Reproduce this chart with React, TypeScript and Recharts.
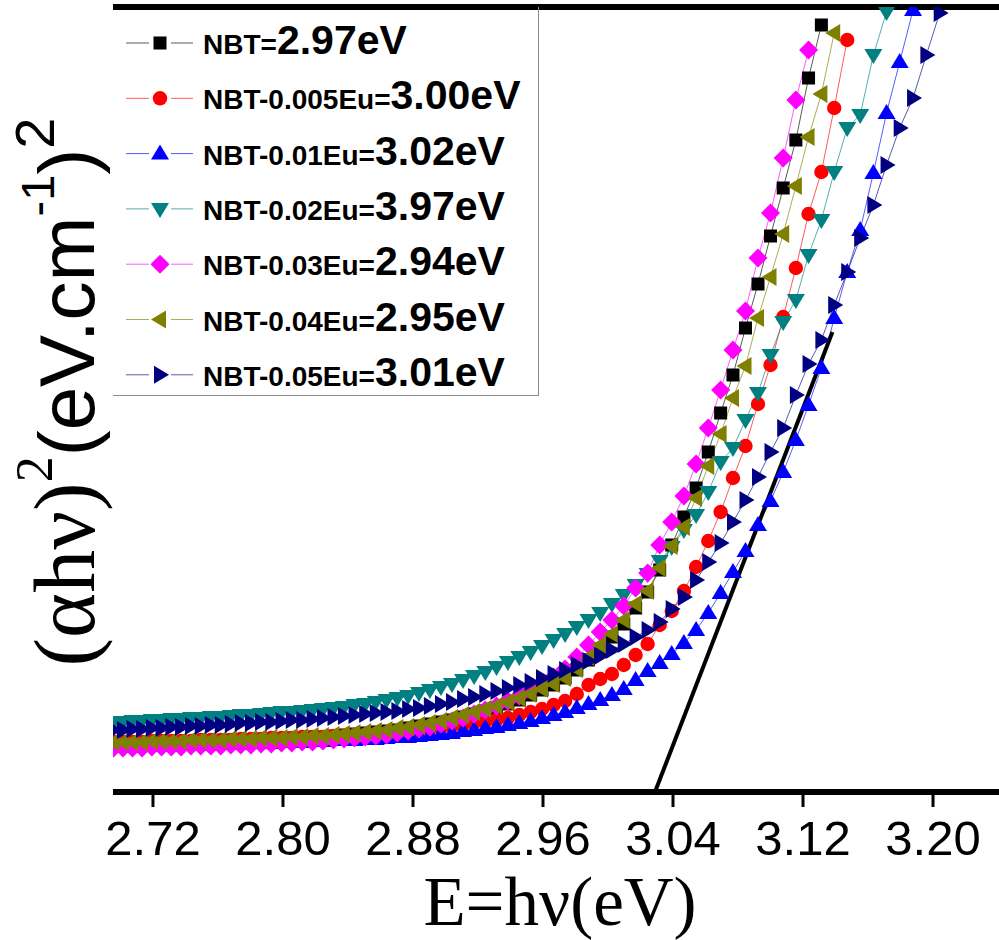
import React from 'react';
import { LineChart, Line, XAxis, YAxis, ReferenceLine, Legend } from 'recharts';

// Photon energy (eV) of each measured point
const energy = [
  2.6957, 2.7015, 2.7074, 2.7133, 2.7193, 2.7253, 2.7313, 2.7373, 2.7434, 2.7494,
  2.7556, 2.7617, 2.7679, 2.7740, 2.7803, 2.7865, 2.7928, 2.7991, 2.8054, 2.8118,
  2.8182, 2.8246, 2.8311, 2.8375, 2.8440, 2.8506, 2.8571, 2.8637, 2.8704, 2.8770,
  2.8837, 2.8904, 2.8972, 2.9040, 2.9108, 2.9176, 2.9245, 2.9314, 2.9384, 2.9454,
  2.9524, 2.9594, 2.9665, 2.9736, 2.9808, 2.9880, 2.9952, 3.0024, 3.0097, 3.0170,
  3.0244, 3.0318, 3.0392, 3.0467, 3.0542, 3.0617, 3.0693, 3.0769, 3.0846, 3.0923,
  3.1000, 3.1078, 3.1156, 3.1234, 3.1313, 3.1392, 3.1472, 3.1552, 3.1633, 3.1714,
  3.1795, 3.1877, 3.1959, 3.2041,
];

// (alpha h nu)^2, arbitrary units
const nbt = [
  4.9, 4.9, 4.9, 4.9, 5.0, 5.0, 5.0, 5.0, 5.0, 5.1,
  5.1, 5.1, 5.2, 5.2, 5.2, 5.3, 5.3, 5.3, 5.4, 5.4,
  5.5, 5.5, 5.6, 5.7, 5.8, 5.9, 6.0, 6.1, 6.2, 6.4,
  6.6, 6.8, 7.0, 7.2, 7.5, 7.8, 8.1, 8.4, 8.8, 9.2,
  9.7, 10.2, 10.7, 11.4, 12.2, 13.2, 14.3, 15.5, 16.8, 18.4,
  20.0, 22.2, 24.7, 27.5, 30.4, 34.0, 37.9, 41.7, 46.4, 50.8,
  55.6, 60.4, 65.2, 71.4, 76.7,
];
const eu005 = [
  5.0, 5.0, 5.0, 5.0, 5.1, 5.1, 5.1, 5.1, 5.1, 5.2,
  5.2, 5.2, 5.2, 5.3, 5.3, 5.3, 5.4, 5.4, 5.4, 5.5,
  5.5, 5.5, 5.6, 5.6, 5.7, 5.7, 5.8, 5.9, 6.0, 6.1,
  6.2, 6.3, 6.4, 6.6, 6.7, 6.9, 7.0, 7.2, 7.4, 7.7,
  8.0, 8.3, 8.7, 9.1, 9.8, 10.7, 11.3, 11.8, 12.7, 13.7,
  14.8, 16.7, 18.1, 20.1, 22.5, 25.1, 28.0, 31.4, 34.6, 38.8,
  42.7, 47.5, 52.4, 57.8, 62.0, 68.4, 75.2,
];
const eu01 = [
  4.5, 4.5, 4.5, 4.6, 4.6, 4.6, 4.6, 4.7, 4.7, 4.7,
  4.7, 4.8, 4.8, 4.8, 4.9, 4.9, 4.9, 5.0, 5.0, 5.0,
  5.1, 5.1, 5.2, 5.2, 5.2, 5.3, 5.3, 5.4, 5.5, 5.5,
  5.6, 5.7, 5.8, 5.9, 6.1, 6.2, 6.4, 6.5, 6.7, 6.9,
  7.1, 7.4, 7.7, 8.0, 8.4, 8.8, 9.2, 9.7, 10.3, 11.2,
  12.1, 12.9, 13.8, 14.9, 16.2, 17.9, 19.9, 22.0, 24.1, 26.7,
  29.1, 32.0, 35.2, 38.7, 42.4, 47.4, 52.0, 56.2, 61.9, 67.9,
  73.0, 78.2,
];
const eu02 = [
  7.0, 7.0, 7.1, 7.1, 7.2, 7.2, 7.3, 7.3, 7.4, 7.4,
  7.5, 7.5, 7.6, 7.7, 7.7, 7.8, 7.9, 8.0, 8.0, 8.1,
  8.2, 8.3, 8.4, 8.5, 8.7, 8.8, 9.0, 9.2, 9.4, 9.6,
  9.9, 10.2, 10.5, 10.8, 11.2, 11.6, 12.0, 12.5, 13.0, 13.5,
  14.0, 14.6, 15.2, 15.8, 16.5, 17.2, 17.9, 18.8, 19.7, 20.7,
  21.8, 23.1, 24.5, 26.2, 27.7, 30.0, 33.0, 34.4, 37.2, 39.9,
  43.7, 47.0, 49.2, 53.7, 57.2, 62.0, 66.4, 67.7, 73.7, 78.0,
];
const eu03 = [
  4.4, 4.4, 4.4, 4.4, 4.5, 4.5, 4.5, 4.5, 4.6, 4.6,
  4.6, 4.6, 4.7, 4.7, 4.7, 4.8, 4.8, 4.9, 4.9, 5.0,
  5.0, 5.1, 5.2, 5.3, 5.4, 5.5, 5.6, 5.7, 5.9, 6.1,
  6.3, 6.5, 6.8, 7.1, 7.4, 7.8, 8.2, 8.6, 9.1, 9.6,
  10.2, 10.8, 11.5, 12.3, 13.5, 14.7, 16.0, 17.2, 18.6, 20.4,
  21.9, 24.7, 27.0, 29.6, 32.8, 36.4, 40.2, 44.2, 48.1, 53.4,
  57.9, 63.4, 69.2, 74.2,
];
const eu04 = [
  5.0, 5.0, 5.0, 5.0, 5.1, 5.1, 5.1, 5.1, 5.2, 5.2,
  5.2, 5.2, 5.3, 5.3, 5.3, 5.4, 5.4, 5.4, 5.5, 5.5,
  5.6, 5.6, 5.7, 5.8, 5.9, 6.0, 6.1, 6.2, 6.4, 6.5,
  6.7, 6.9, 7.1, 7.4, 7.7, 8.0, 8.3, 8.6, 9.0, 9.4,
  9.8, 10.3, 10.8, 11.4, 12.3, 13.5, 14.7, 15.8, 17.2, 18.8,
  20.1, 22.4, 24.6, 26.5, 29.4, 32.6, 35.8, 39.4, 42.6, 47.4,
  51.5, 55.8, 60.6, 65.5, 69.8, 75.9,
];
const eu05 = [
  6.2, 6.2, 6.3, 6.3, 6.4, 6.4, 6.5, 6.5, 6.6, 6.6,
  6.7, 6.7, 6.8, 6.9, 6.9, 7.0, 7.0, 7.1, 7.2, 7.2,
  7.3, 7.4, 7.5, 7.6, 7.7, 7.8, 7.9, 8.0, 8.1, 8.3,
  8.4, 8.6, 8.8, 9.0, 9.3, 9.5, 9.8, 10.1, 10.4, 10.7,
  11.0, 11.4, 11.8, 12.2, 12.7, 13.1, 13.6, 14.2, 14.8, 15.5,
  16.2, 17.0, 18.3, 19.5, 21.2, 23.0, 24.9, 27.0, 29.2, 31.5,
  34.0, 36.4, 39.7, 42.8, 45.2, 48.7, 52.0, 55.4, 58.7, 62.7,
  66.4, 69.4, 73.7, 77.9,
];

// Linear fit (Tauc extrapolation)
const fitEnergy = [3.0289, 3.1381];
const fitValue = [0, 46.0];

const xTicks = [2.72, 2.8, 2.88, 2.96, 3.04, 3.12, 3.2];

const seriesLabels = ['NBT=', 'NBT-0.005Eu=', 'NBT-0.01Eu=', 'NBT-0.02Eu=', 'NBT-0.03Eu=', 'NBT-0.04Eu=', 'NBT-0.05Eu='];
const seriesGaps = ['2.97eV', '3.00eV', '3.02eV', '3.97eV', '2.94eV', '2.95eV', '3.01eV'];
const seriesColors = ['#000000', '#ff0000', '#0000ff', '#008080', '#ff00ff', '#808000', '#000080'];
const seriesShapes = ['square', 'circle', 'up', 'down', 'diamond', 'left', 'right'];
const seriesValues = [nbt, eu005, eu01, eu02, eu03, eu04, eu05];

const SANS = "Arial, 'Liberation Sans', sans-serif";
const SERIF = "'Times New Roman', 'Liberation Serif', serif";

function Marker({ shape, cx, cy, color }: { shape: string; cx: number; cy: number; color: string }) {
  switch (shape) {
    case 'square':
      return <rect x={cx - 6.5} y={cy - 6.5} width={13} height={13} fill={color} />;
    case 'circle':
      return <circle cx={cx} cy={cy} r={7.2} fill={color} />;
    case 'up':
      return <polygon points={`${cx},${cy - 9} ${cx + 9},${cy + 6} ${cx - 9},${cy + 6}`} fill={color} />;
    case 'down':
      return <polygon points={`${cx - 9},${cy - 6} ${cx + 9},${cy - 6} ${cx},${cy + 9}`} fill={color} />;
    case 'diamond':
      return <polygon points={`${cx},${cy - 9.5} ${cx + 9.5},${cy} ${cx},${cy + 9.5} ${cx - 9.5},${cy}`} fill={color} />;
    case 'left':
      return <polygon points={`${cx - 9},${cy} ${cx + 6},${cy - 9} ${cx + 6},${cy + 9}`} fill={color} />;
    case 'right':
      return <polygon points={`${cx + 9},${cy} ${cx - 6},${cy - 9} ${cx - 6},${cy + 9}`} fill={color} />;
    default:
      return null;
  }
}

function LegendBox() {
  return (
    <svg width={425} height={388} style={{ display: 'block' }}>
      {seriesLabels.map((lab, i) => {
        const cy = 36 + i * 55.3;
        const c = seriesColors[i];
        return (
          <g key={lab}>
            <line x1={13} x2={36} y1={cy} y2={cy} stroke={c} strokeWidth={1} strokeOpacity={0.65} />
            <line x1={58} x2={80} y1={cy} y2={cy} stroke={c} strokeWidth={1} strokeOpacity={0.65} />
            <Marker shape={seriesShapes[i]} cx={47} cy={cy} color={c} />
            <text x={90} y={cy + 11} fontFamily={SANS} fontWeight="bold" fill="#000">
              <tspan fontSize={28}>{lab}</tspan>
              <tspan fontSize={41}>{seriesGaps[i]}</tspan>
            </text>
          </g>
        );
      })}
    </svg>
  );
}

function XTick(props: any) {
  const { x, y, payload } = props;
  return (
    <text x={x} y={y + 48} textAnchor="middle" fontFamily={SANS} fontSize={49} fill="#000">
      {Number(payload.value).toFixed(2)}
    </text>
  );
}

function Titles() {
  return (
    <g>
      <text x={560} y={925} textAnchor="middle" fontFamily={SERIF} fontSize={69} fill="#000">
        E=hν(eV)
      </text>
      <text transform="rotate(-90 94 392)" x={94} y={392} textAnchor="middle" fill="#000">
        <tspan fontFamily={SERIF} fontSize={86}>(αhν)</tspan>
        <tspan fontFamily={SERIF} fontSize={52} dy={-42}>2</tspan>
        <tspan fontFamily={SANS} fontSize={78} dy={42}>(eV.cm</tspan>
        <tspan fontFamily={SANS} fontSize={47} dy={-40}>-1</tspan>
        <tspan fontFamily={SANS} fontSize={78} dy={40}>)</tspan>
        <tspan fontFamily={SANS} fontSize={56} dy={-40}>2</tspan>
      </text>
    </g>
  );
}

export default function App() {
  const seriesData = seriesValues.map((vals) => vals.map((v, i) => ({ x: energy[i], y: v })));
  const fitData = fitEnergy.map((e, i) => ({ x: e, y: fitValue[i] }));

  return (
    <div style={{ position: 'absolute', left: 0, top: 0, width: 999, height: 940, overflow: 'hidden', background: '#fff' }}>
      <LineChart width={999} height={940} margin={{ top: 7, right: 0, bottom: 0, left: 113 }}>
        <XAxis
          type="number"
          dataKey="x"
          domain={[2.6954, 3.2406]}
          ticks={xTicks}
          allowDataOverflow
          height={148}
          axisLine={{ stroke: '#000', strokeWidth: 6 }}
          tickLine={{ stroke: '#000', strokeWidth: 3 }}
          tickSize={15}
          tickMargin={0}
          tick={<XTick />}
          label={{ content: () => <Titles /> }}
        />
        <YAxis
          type="number"
          dataKey="y"
          domain={[0, 78.5]}
          allowDataOverflow
          width={0}
          tick={false}
          tickLine={false}
          axisLine={{ stroke: '#000', strokeWidth: 5 }}
        />
        <ReferenceLine y={78.5} stroke="#000" strokeWidth={6} />
        {seriesData.map((d, si) => (
          <Line
            key={seriesLabels[si]}
            data={d}
            dataKey="y"
            name={seriesLabels[si]}
            stroke={seriesColors[si]}
            strokeWidth={1}
            strokeOpacity={0.65}
            isAnimationActive={false}
            dot={(p: any) => (
              <Marker key={`${si}-${p.index}`} shape={seriesShapes[si]} cx={p.cx} cy={p.cy} color={seriesColors[si]} />
            )}
            activeDot={false}
            legendType="none"
          />
        ))}
        <Line
          data={fitData}
          dataKey="y"
          stroke="#000"
          strokeWidth={4}
          dot={false}
          activeDot={false}
          isAnimationActive={false}
          legendType="none"
        />
        <Legend
          layout="vertical"
          align="center"
          verticalAlign="middle"
          content={() => <LegendBox />}
          wrapperStyle={{ left: 113, top: 7, width: 425, height: 388, border: '1px solid #8a8a8a', borderTop: 'none', borderLeft: 'none', background: 'transparent' }}
        />
      </LineChart>
    </div>
  );
}
